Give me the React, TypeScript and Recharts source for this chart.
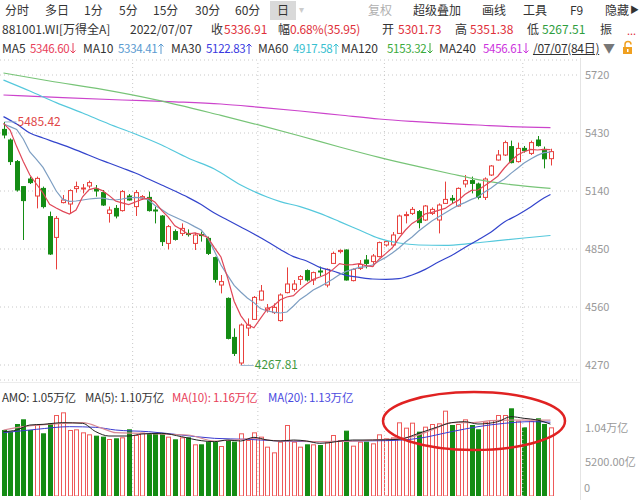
import React from 'react';
import { ComposedChart, Bar, Line, XAxis, YAxis, CartesianGrid, ReferenceLine, ReferenceDot } from 'recharts';

// ---------- DATA (Wind All A 881001.WI, 84 trading days to 2022/07/07) ----------
const OPEN = [
  5448, 5395, 5287, 5162, 5200, 5115, 5153, 5012, 4908, 5082,
  5075, 5152, 5150, 5165, 5150, 5132, 5028, 5053, 5042, 5115,
  5062, 5105, 5108, 5045, 5015, 4878, 4937, 4928, 4928, 4878,
  4922, 4903, 4807, 4670, 4603, 4408, 4280, 4455, 4498, 4595,
  4545, 4532, 4492, 4632, 4648, 4698, 4742, 4695, 4740, 4670,
  4778, 4837, 4845, 4692, 4753, 4795, 4787, 4812, 4870, 4870,
  4928, 5017, 5028, 5037, 4995, 5028, 4995, 5078, 5103, 5065,
  5175, 5192, 5175, 5108, 5220, 5295, 5320, 5362, 5287, 5353,
  5328, 5395, 5348, 5301.73,
];
const HIGH = [
  5485.42, 5403, 5295, 5165, 5212, 5212, 5162, 5037, 5015, 5120,
  5148, 5187, 5175, 5192, 5170, 5145, 5062, 5070, 5145, 5125,
  5145, 5120, 5137, 5062, 5020, 4970, 4948, 4978, 4948, 4932,
  4937, 4912, 4812, 4720, 4608, 4453, 4478, 4503, 4615, 4670,
  4575, 4578, 4628, 4758, 4695, 4720, 4748, 4737, 4762, 4753,
  4837, 4848, 4848, 4753, 4795, 4820, 4825, 4887, 4895, 4935,
  5022, 5037, 5060, 5045, 5070, 5058, 5078, 5187, 5120, 5158,
  5220, 5212, 5182, 5208, 5270, 5345, 5392, 5392, 5382, 5365,
  5392, 5415, 5362, 5351.38,
];
const LOW = [
  5403, 5270, 5137, 4895, 5175, 5053, 5053, 4820, 4748, 5078,
  5028, 5132, 5128, 5153, 5112, 5065, 4982, 5003, 5037, 5092,
  5015, 5095, 5037, 4978, 4865, 4848, 4892, 4915, 4912, 4845,
  4887, 4820, 4682, 4628, 4398, 4315, 4267.81, 4415, 4495, 4592,
  4532, 4525, 4487, 4628, 4637, 4670, 4687, 4670, 4715, 4658,
  4775, 4828, 4692, 4688, 4745, 4753, 4762, 4808, 4862, 4862,
  4925, 4978, 5020, 4953, 4990, 5020, 4928, 5075, 5078, 5062,
  5158, 5128, 5098, 5095, 5215, 5292, 5315, 5278, 5282, 5332,
  5320, 5362, 5253, 5267.51,
];
const CLOSE = [
  5420, 5287, 5145, 5092, 5182, 5203, 5062, 4825, 5003, 5095,
  5142, 5162, 5155, 5182, 5140, 5070, 5045, 5015, 5137, 5095,
  5132, 5112, 5042, 5040, 4887, 4962, 4898, 4953, 4922, 4920,
  4918, 4828, 4698, 4687, 4403, 4328, 4470, 4470, 4608, 4640,
  4555, 4558, 4620, 4675, 4675, 4712, 4695, 4732, 4735, 4748,
  4828, 4843, 4695, 4748, 4773, 4778, 4815, 4882, 4887, 4920,
  5015, 5022, 5048, 4982, 5065, 5048, 5070, 5098, 5095, 5153,
  5192, 5178, 5108, 5200, 5265, 5320, 5382, 5282, 5353, 5342,
  5382, 5367, 5300.96, 5336.91,
];
// turnover (亿元)
const AMO = [
  10100, 9840, 11016, 11730, 10100, 10965, 9590, 11120, 12390, 12800,
  10100, 10200, 9740, 9435, 9230, 9080, 8720, 8825, 8976, 10200,
  9333, 9690, 9486, 9590, 9590, 9080, 8670, 8976, 8976, 7905,
  7905, 8313, 8313, 7650, 8568, 8313, 9590, 8568, 9740, 9080,
  7548, 6680, 8313, 10863, 8313, 7548, 7905, 7905, 7800, 8211,
  9333, 8568, 9996, 7701, 8313, 8313, 8058, 9435, 8823, 8976,
  11271, 10455, 11220, 9843, 10608, 11016, 11118, 13056, 10863, 11016,
  11730, 10863, 10200, 11373, 11628, 12393, 12393, 13413, 11526, 10506,
  11526, 11883, 11016, 10506,
];
const MA5 = [
  5478, 5445, 5362, 5287, 5220, 5175, 5130, 5073, 5055, 5038,
  5025, 5045, 5111, 5147, 5156, 5142, 5118, 5090, 5081, 5072,
  5085, 5098, 5104, 5084, 5043, 5009, 4966, 4948, 4924, 4931,
  4922, 4908, 4857, 4810, 4707, 4589, 4517, 4472, 4456, 4503,
  4549, 4566, 4596, 4610, 4617, 4648, 4675, 4698, 4710, 4724,
  4748, 4777, 4770, 4772, 4777, 4767, 4762, 4799, 4827, 4856,
  4904, 4945, 4978, 4997, 5026, 5033, 5043, 5053, 5075, 5093,
  5122, 5143, 5145, 5166, 5189, 5214, 5255, 5290, 5320, 5336,
  5348, 5345, 5348, 5346.6,
];
const MA10 = [
  5475, 5462, 5448, 5400, 5335, 5298, 5258, 5200, 5140, 5098,
  5088, 5090, 5095, 5100, 5103, 5105, 5098, 5095, 5100, 5106,
  5108, 5106, 5095, 5068, 5048, 5025, 5010, 4995, 4980, 4962,
  4945, 4905, 4840, 4770, 4718, 4668, 4635, 4605, 4582, 4552,
  4540, 4534, 4530, 4535, 4565, 4598, 4620, 4645, 4662, 4680,
  4700, 4722, 4738, 4748, 4758, 4762, 4770, 4790, 4808, 4830,
  4855, 4885, 4910, 4940, 4965, 4990, 5010, 5030, 5050, 5068,
  5082, 5098, 5110, 5135, 5155, 5180, 5200, 5228, 5254, 5280,
  5300, 5318, 5332, 5334.41,
];
// slow averages read at sample candles: [candle index, value]
const MA30_PTS: [number, number][] = [
  [0, 5512], [2, 5475], [4, 5430], [6, 5405], [8, 5382], [10, 5358], [12, 5332], [14, 5305],
  [16, 5280], [18, 5255], [20, 5230], [22, 5200], [24, 5170], [26, 5140], [28, 5108], [30, 5072],
  [32, 5030], [34, 4995], [36, 4960], [38, 4925], [40, 4888], [42, 4848], [44, 4812], [46, 4790],
  [48, 4758], [50, 4740], [52, 4718], [54, 4708], [56, 4700], [58, 4698], [60, 4702], [62, 4720],
  [64, 4748], [66, 4785], [68, 4818], [70, 4858], [72, 4895], [74, 4935], [76, 4985], [78, 5020],
  [80, 5060], [82, 5105], [83, 5122.83],
];
const MA60_PTS: [number, number][] = [
  [0, 5695], [4, 5640], [8, 5582], [12, 5530], [16, 5475], [20, 5425], [24, 5370], [28, 5305],
  [32, 5250], [36, 5170], [40, 5110], [42, 5087], [45, 5062], [48, 5028], [51, 4987], [54, 4945],
  [57, 4903], [60, 4880], [63, 4870], [67, 4868], [71, 4878], [75, 4892], [79, 4905], [83, 4917.58],
];
const MA120_PTS: [number, number][] = [
  [0, 5730], [7, 5690], [15, 5648], [23, 5597], [33, 5518], [39, 5468], [45, 5415], [51, 5360],
  [57, 5308], [63, 5262], [68, 5225], [72, 5197], [77, 5172], [83, 5153.32],
];
const MA240_PTS: [number, number][] = [
  [0, 5620], [9, 5607], [18, 5595], [26, 5586], [33, 5575], [39, 5558], [45, 5540], [51, 5520],
  [57, 5500], [62, 5488], [67, 5478], [72, 5470], [77, 5462], [83, 5456.61],
];
const VMA5_PTS: [number, number][] = [
  [0, 9840], [2, 10100], [4, 10863], [6, 10965], [9, 11220], [12, 11118], [14, 9840], [16, 9180],
  [19, 9180], [21, 9486], [24, 9590], [27, 9080], [30, 8466], [32, 8313], [34, 8568], [36, 8415],
  [38, 8976], [40, 8568], [42, 8415], [44, 8568], [46, 8415], [48, 8058], [53, 8568], [56, 8568],
  [60, 8670], [63, 9590], [66, 10608], [68, 11220], [70, 11373], [72, 11016], [75, 11373], [77, 12138],
  [79, 11883], [81, 11628], [83, 11000],
];
const VMA10_PTS: [number, number][] = [
  [0, 10100], [3, 10608], [9, 11118], [12, 11220], [15, 10353], [17, 9690], [21, 9590], [25, 9435],
  [28, 9333], [32, 8415], [35, 8568], [38, 8823], [41, 8466], [45, 8415], [48, 8313], [58, 8670],
  [62, 9080], [65, 10100], [68, 11220], [71, 11220], [74, 11526], [78, 11628], [83, 11600],
];
const VMA20_PTS: [number, number][] = [
  [0, 9690], [5, 10200], [10, 10608], [14, 10506], [17, 10098], [22, 9843], [27, 9333], [32, 8823],
  [37, 8670], [42, 8415], [48, 8313], [53, 8415], [58, 8466], [63, 8823], [68, 9843], [72, 10608],
  [76, 11118], [80, 11373], [83, 11300],
];
const PRICE_TICKS = [4270, 4560, 4850, 5140, 5430, 5720];
const VOL_TICKS = [5200, 10400];
const MONTH_BREAKS = [19.6, 38.6, 57.8, 78.8];
const HIGH_MARK = { i: 0, v: 5485.42 };
const LOW_MARK = { i: 36, v: 4267.81 };

// ---------- build table ----------
const lookup = (pts: [number, number][]) => {
  const m = new Map(pts);
  return (i: number) => (m.has(i) ? (m.get(i) as number) : null);
};
const m30 = lookup(MA30_PTS), m60 = lookup(MA60_PTS), m120 = lookup(MA120_PTS), m240 = lookup(MA240_PTS);
const v5 = lookup(VMA5_PTS), v10 = lookup(VMA10_PTS), v20 = lookup(VMA20_PTS);

const DATA = OPEN.map((o, i) => ({
  i,
  open: o, high: HIGH[i], low: LOW[i], close: CLOSE[i],
  range: [LOW[i], HIGH[i]],
  amo: AMO[i],
  ma5: MA5[i], ma10: MA10[i], ma30: m30(i), ma60: m60(i), ma120: m120(i), ma240: m240(i),
  vma5: v5(i), vma10: v10(i), vma20: v20(i),
}));

const RED = '#e8403c';
const GREEN = '#148c14';
const FONT = '"Noto Sans CJK SC", "Noto Sans", sans-serif';
const X_DOMAIN: [number, number] = [-0.53, 87.48];

const Candle = (props: any) => {
  const { x, y, width, height, payload } = props;
  if (!payload) return null;
  const { open, close, high, low } = payload;
  const up = close >= open;
  const py = (v: number) => y + ((high - v) / (high - low)) * height;
  const cx = Math.round(x + width / 2) + 0.5;
  const top = py(Math.max(open, close));
  let bot = py(Math.min(open, close));
  if (bot - top < 1) bot = top + 1;
  const c = up ? RED : GREEN;
  return (
    <g>
      <line x1={cx} x2={cx} y1={y} y2={top} stroke={c} strokeWidth={1} />
      <line x1={cx} x2={cx} y1={bot} y2={y + height} stroke={c} strokeWidth={1} />
      <rect x={cx - 2} y={top} width={4} height={bot - top} fill={up ? '#fff' : c} stroke={c} strokeWidth={1} />
    </g>
  );
};

const VolBar = (props: any) => {
  const { x, y, width, height, payload } = props;
  if (!payload) return null;
  const up = payload.close >= payload.open;
  const cx = Math.round(x + width / 2) + 0.5;
  return (
    <rect x={cx - 2} y={y + 0.5} width={4} height={Math.max(height - 0.5, 0)}
      fill={up ? '#fff' : GREEN} stroke={up ? '#ee5a5a' : GREEN} strokeWidth={1} />
  );
};

const VolTick = (props: any) => {
  const { x, y, payload } = props;
  const v = payload.value as number;
  const label = v >= 10000 ? (v / 10000).toFixed(2) + '万亿' : v.toFixed(2) + '亿';
  return (
    <text x={x} y={y + 4} fill="#999" fontSize={11} fontFamily={FONT} textAnchor="start">{label}</text>
  );
};

const HighMark = (p: any) => (
  <g>
    <line x1={p.cx + 1} x2={p.cx + 13} y1={p.cy} y2={p.cy} stroke="#9ab4cf" strokeWidth={1} />
    <text x={p.cx + 14} y={p.cy + 4} fill="#e04848" fontSize={12} fontFamily={FONT}>{HIGH_MARK.v.toFixed(2)}</text>
  </g>
);
const LowMark = (p: any) => (
  <g>
    <line x1={p.cx} x2={p.cx + 13} y1={p.cy} y2={p.cy} stroke="#9ab4cf" strokeWidth={1} />
    <text x={p.cx + 14} y={p.cy + 4} fill="#3f9a3f" fontSize={12} fontFamily={FONT}>{LOW_MARK.v.toFixed(2)}</text>
  </g>
);

const T = ({ x, y, c = '#333', children, s = 12, ls = 0, u = false }: any) => (
  <span style={{ position: 'absolute', left: x, top: y - 8, fontSize: s, lineHeight: '16px', color: c, whiteSpace: 'nowrap', letterSpacing: ls, textDecoration: u ? 'underline' : 'none' }}>{children}</span>
);

// slim trend arrow drawn next to a legend value
const Arrow = ({ up, c }: any) => (
  <svg width={6} height={11} style={{ display: 'inline-block', verticalAlign: '-1px', marginLeft: 1 }}>
    {up ? (
      <g stroke={c} strokeWidth={1} fill="none"><line x1={3} y1={1} x2={3} y2={11} /><path d="M0.5 3.5 L3 1 L5.5 3.5" /></g>
    ) : (
      <g stroke={c} strokeWidth={1} fill="none"><line x1={3} y1={0} x2={3} y2={10} /><path d="M0.5 7.5 L3 10 L5.5 7.5" /></g>
    )}
  </svg>
);

const fmtWY = (v: number) => (v / 10000).toFixed(2) + '万亿';

export default function App() {
  const last = DATA.length - 1;
  const chg = CLOSE[last] - CLOSE[last - 1];
  const pct = (chg / CLOSE[last - 1]) * 100;
  const legend = [
    { name: 'MA5', v: MA5[last], c: '#e8405a', up: false, x: 2, vx: 30 },
    { name: 'MA10', v: MA10[last], c: '#5a9ad0', up: true, x: 83, vx: 118 },
    { name: 'MA30', v: MA30_PTS[MA30_PTS.length - 1][1], c: '#3a3ae0', up: true, x: 171, vx: 206 },
    { name: 'MA60', v: MA60_PTS[MA60_PTS.length - 1][1], c: '#38c0d0', up: true, x: 258, vx: 293 },
    { name: 'MA120', v: MA120_PTS[MA120_PTS.length - 1][1], c: '#3aaa3a', up: false, x: 341, vx: 387 },
    { name: 'MA240', v: MA240_PTS[MA240_PTS.length - 1][1], c: '#cc33dd', up: false, x: 439, vx: 483 },
  ];
  return (
    <div style={{ position: 'absolute', left: 0, top: 0, width: 640, height: 500, overflow: 'hidden', background: '#fff', fontFamily: FONT }}>
      {/* toolbar row */}
      <T x={5} y={10}>分时</T>
      <T x={45} y={10}>多日</T>
      <T x={84} y={10}>1分</T>
      <T x={119} y={10}>5分</T>
      <T x={153} y={10}>15分</T>
      <T x={195} y={10}>30分</T>
      <T x={235} y={10}>60分</T>
      <div style={{ position: 'absolute', left: 270, top: 1, width: 26, height: 19, background: '#d9d9d9' }} />
      <T x={277} y={10}>日</T>
      <T x={299} y={9} c="#ccc" s={10}>▾</T>
      <T x={368} y={10} c="#b0b0b0">复权</T>
      <T x={413} y={10}>超级叠加</T>
      <T x={482} y={10}>画线</T>
      <T x={523} y={10}>工具</T>
      <T x={570} y={10}>F9</T>
      <T x={605} y={10}>隐藏</T>
      <T x={630} y={10} s={9}>▶</T>
      {/* quote row */}
      <T x={2} y={29}>881001.WI[万得全A]</T>
      <T x={130} y={29}>2022/07/07</T>
      <T x={211} y={29}>收</T>
      <T x={224} y={29} c="#e0303a">{CLOSE[last].toFixed(2)}</T>
      <T x={278} y={29}>幅</T>
      <T x={290} y={29} c="#e0303a" ls={-0.2}>{pct.toFixed(2)}%({chg.toFixed(2)})</T>
      <T x={382} y={29}>开</T>
      <T x={398} y={29} c="#e0303a">{OPEN[last].toFixed(2)}</T>
      <T x={455} y={29}>高</T>
      <T x={470} y={29} c="#e0303a">{HIGH[last].toFixed(2)}</T>
      <T x={527} y={29}>低</T>
      <T x={542} y={29} c="#2e9e3e">{LOW[last].toFixed(2)}</T>
      <T x={600} y={29}>振</T>
      <T x={627} y={30} c="#e0303a" s={11}>...</T>
      {/* MA legend row */}
      {legend.map((l) => (
        <React.Fragment key={l.name}>
          <T x={l.x} y={48}>{l.name}</T>
          <T x={l.vx} y={48} c={l.c} s={11.5} ls={-0.3}>{l.v.toFixed(2)}<Arrow up={l.up} c={l.c} /></T>
        </React.Fragment>
      ))}
      <T x={533} y={48} ls={-0.3} u>/07/07(84日)</T>
      <T x={603} y={48} c="#777" s={12}>▼</T>
      <svg style={{ position: 'absolute', left: 621, top: 40 }} width={14} height={16}>
        <path d="M4 7 V4.5 a3 3 0 0 1 6 0" fill="none" stroke="#f0a020" strokeWidth={1.5} />
        <rect x={2} y={7} width={9} height={7} fill="#f0a020" />
        <rect x={6} y={9} width={1.5} height={3} fill="#fff" />
      </svg>

      {/* right axis border and panel divider */}
      <div style={{ position: 'absolute', left: 580, top: 58, width: 1, height: 442, background: '#e4e4e4' }} />
      <div style={{ position: 'absolute', left: 0, top: 382, width: 580, height: 1, background: '#ececec' }} />

      {/* price panel */}
      <div style={{ position: 'absolute', left: 0, top: 0 }}>
        <ComposedChart width={640} height={382} data={DATA} margin={{ top: 60, right: 0, bottom: 2, left: 0 }}>
          <CartesianGrid vertical={false} stroke="#c8c8c8" strokeDasharray="1 3" />
          <XAxis type="number" dataKey="i" domain={X_DOMAIN} hide allowDataOverflow />
          <YAxis orientation="right" width={60} domain={[4195, 5795]} ticks={PRICE_TICKS} interval={0}
            allowDataOverflow axisLine={false} tickLine={false} tickSize={0} tickMargin={5}
            tick={{ fill: '#999', fontSize: 11, fontFamily: FONT }} />
          {MONTH_BREAKS.map((m) => (
            <ReferenceLine key={m} x={m} stroke="#c8c8c8" strokeDasharray="1 3" />
          ))}
          <Bar dataKey="range" barSize={5} shape={(p: any) => <Candle {...p} />} isAnimationActive={false} />
          <Line dataKey="ma240" stroke="#cc44cc" strokeWidth={1.2} dot={false} connectNulls type="monotone" isAnimationActive={false} />
          <Line dataKey="ma120" stroke="#77c477" strokeWidth={1.2} dot={false} connectNulls type="monotone" isAnimationActive={false} />
          <Line dataKey="ma60" stroke="#55c8dc" strokeWidth={1.2} dot={false} connectNulls type="monotone" isAnimationActive={false} />
          <Line dataKey="ma30" stroke="#3344cc" strokeWidth={1.2} dot={false} connectNulls type="monotone" isAnimationActive={false} />
          <Line dataKey="ma10" stroke="#7d9ec2" strokeWidth={1.2} dot={false} type="linear" isAnimationActive={false} />
          <Line dataKey="ma5" stroke="#e04858" strokeWidth={1.2} dot={false} type="linear" isAnimationActive={false} />
          <ReferenceDot x={HIGH_MARK.i} y={HIGH_MARK.v} r={0} shape={(p: any) => <HighMark {...p} />} />
          <ReferenceDot x={LOW_MARK.i} y={LOW_MARK.v} r={0} shape={(p: any) => <LowMark {...p} />} />
        </ComposedChart>
      </div>

      {/* volume panel */}
      <div style={{ position: 'absolute', left: 0, top: 382 }}>
        <ComposedChart width={640} height={118} data={DATA} margin={{ top: 2, right: 0, bottom: 4, left: 0 }}>
          <XAxis type="number" dataKey="i" domain={X_DOMAIN} hide allowDataOverflow />
          <YAxis orientation="right" width={60} domain={[0, 17136]} ticks={VOL_TICKS} interval={0}
            allowDataOverflow axisLine={false} tickLine={false} tickSize={0} tickMargin={5}
            tick={(p: any) => <VolTick {...p} />} />
          {MONTH_BREAKS.map((m) => (
            <ReferenceLine key={m} x={m} stroke="#c8c8c8" strokeDasharray="1 3" />
          ))}
          <Bar dataKey="amo" barSize={5} shape={(p: any) => <VolBar {...p} />} isAnimationActive={false} />
          <Line dataKey="vma20" stroke="#3a3ad0" strokeWidth={1} dot={false} connectNulls type="monotone" isAnimationActive={false} />
          <Line dataKey="vma10" stroke="#d88a94" strokeWidth={1.2} dot={false} connectNulls type="monotone" isAnimationActive={false} />
          <Line dataKey="vma5" stroke="#222" strokeWidth={1} dot={false} connectNulls type="monotone" isAnimationActive={false} />
        </ComposedChart>
      </div>
      {/* zero label of the turnover axis */}
      <T x={584} y={487} c="#999" s={11}>0</T>
      <T x={2} y={397} s={11.5} ls={-0.2}>AMO: {fmtWY(AMO[last])}</T>
      <T x={85} y={397} s={11.5} ls={-0.2}>MA(5): {fmtWY(VMA5_PTS[VMA5_PTS.length - 1][1])}</T>
      <T x={172} y={397} s={11.5} ls={-0.2} c="#e8405a">MA(10): {fmtWY(VMA10_PTS[VMA10_PTS.length - 1][1])}</T>
      <T x={268} y={397} s={11.5} ls={-0.2} c="#4a4ae0">MA(20): {fmtWY(VMA20_PTS[VMA20_PTS.length - 1][1])}</T>

      {/* hand-drawn highlight ellipse */}
      <svg style={{ position: 'absolute', left: 0, top: 0, pointerEvents: 'none' }} width={640} height={500}>
        <ellipse cx={474} cy={421} rx={91} ry={29} fill="none" stroke="#e02222" strokeWidth={2.5} />
      </svg>
    </div>
  );
}
